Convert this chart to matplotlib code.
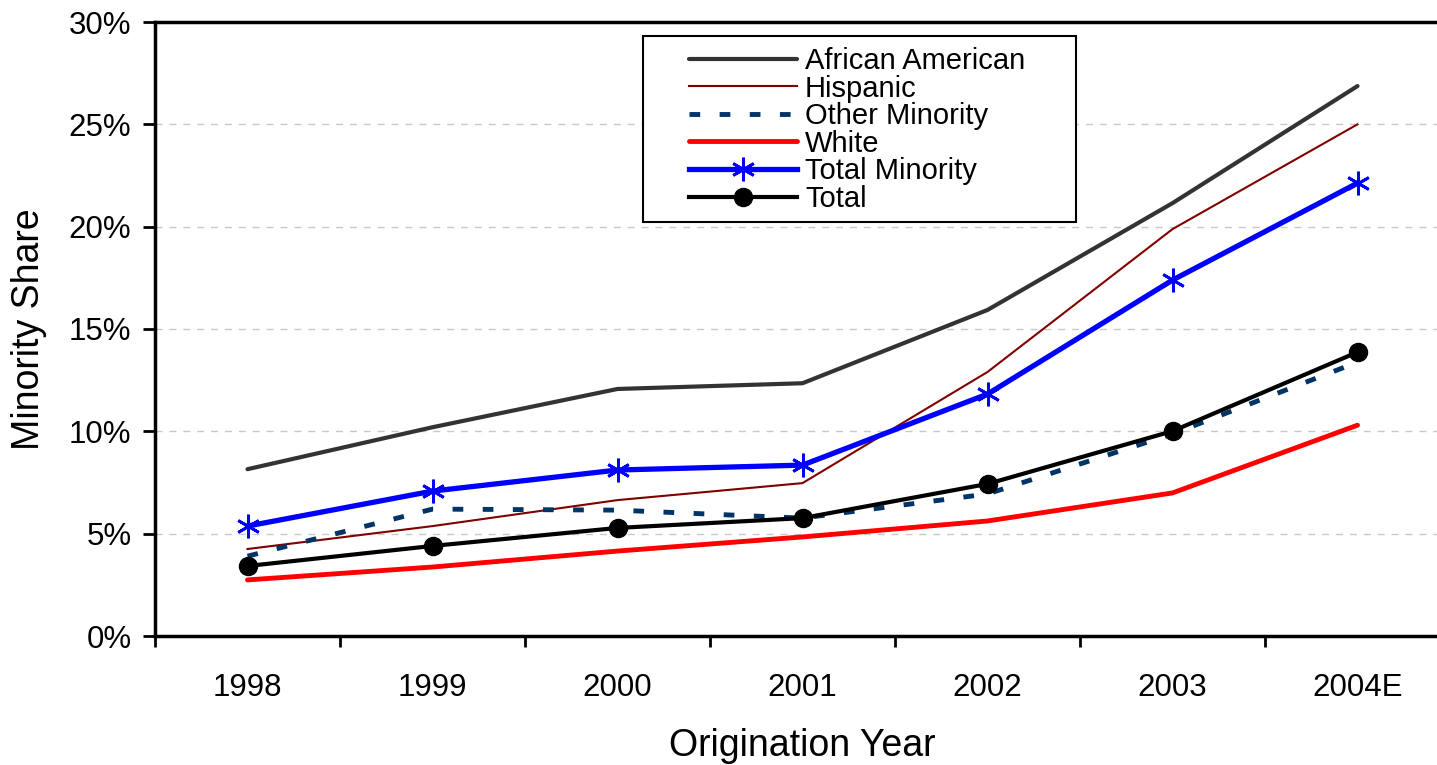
import matplotlib
matplotlib.use("Agg")
import matplotlib.pyplot as plt
from matplotlib.ticker import FuncFormatter, FixedLocator
from matplotlib.patches import Rectangle

plt.rcParams['font.family'] = ['Liberation Sans', 'DejaVu Sans']

years = ["1998", "1999", "2000", "2001", "2002", "2003", "2004E"]
african_american = [8.15, 10.2, 12.07, 12.35, 15.93, 21.15, 26.87]
hispanic = [4.25, 5.37, 6.64, 7.47, 12.9, 19.88, 25.0]
other_minority = [3.9, 6.2, 6.15, 5.76, 6.94, 9.87, 13.38]
white = [2.74, 3.37, 4.15, 4.84, 5.62, 6.99, 10.3]
total_minority = [5.37, 7.08, 8.11, 8.35, 11.82, 17.39, 22.13]
total = [3.42, 4.4, 5.28, 5.76, 7.43, 10.01, 13.87]

W, H = 1437, 765
fig = plt.figure(figsize=(W / 100, H / 100), dpi=100)
left, right, bottom, top = 155, 1450, 636, 22
ax = fig.add_axes([left / W, 1 - bottom / H, (right - left) / W, (bottom - top) / H])

x = list(range(len(years)))
ax.plot(x, african_american, color='#333333', lw=3.0, label='African American', solid_capstyle='round')
ax.plot(x, hispanic, color='#800000', lw=1.5, label='Hispanic')
ax.plot(x, other_minority, color='#003366', lw=3.5, dashes=(2.2, 4.0), dash_capstyle='butt',
        label='Other Minority')
ax.plot(x, white, color='#FF0000', lw=3.5, label='White', solid_capstyle='round')
ax.plot(x, total_minority, color='#0000FF', lw=3.8, marker=(6, 2, 0), markersize=17,
        markeredgewidth=2.0, markeredgecolor='#0000FF', label='Total Minority')
ax.plot(x, total, color='#000000', lw=3.0, marker='o', markersize=13, label='Total')

ax.set_xlim(-0.5, len(years) - 0.5)
ax.set_ylim(0, 30)
ax.set_yticks([0, 5, 10, 15, 20, 25, 30])
ax.yaxis.set_major_formatter(FuncFormatter(lambda v, p: f"{int(round(v))}%"))
ax.set_xticks(x)
ax.set_xticklabels(years)
ax.tick_params(axis='x', which='major', length=0, pad=27, labelsize=22.5)
ax.xaxis.set_minor_locator(FixedLocator([i + 0.5 for i in range(len(years) - 1)] + [-0.5]))
ax.tick_params(axis='x', which='minor', length=8, width=2, direction='out')
ax.tick_params(axis='y', length=9, width=2, direction='out', labelsize=22.5, pad=8)

ax.grid(axis='y', color='#C8C8C8', linestyle=(0, (5, 5)), lw=1.0)
ax.spines['right'].set_visible(False)
for s in ['left', 'bottom', 'top']:
    ax.spines[s].set_linewidth(2.5)

ax.set_ylabel('Minority Share', fontsize=27, labelpad=16)
ax.set_xlabel('Origination Year', fontsize=27, labelpad=18)

# legend box frame
rect = Rectangle((643 / W, 1 - 222 / H), (1076 - 643) / W, (222 - 36) / H,
                 transform=fig.transFigure, fill=True, facecolor='white',
                 edgecolor='black', lw=1.5, zorder=5, clip_on=False)
ax.add_artist(rect)
leg = ax.legend(loc='upper left', bbox_to_anchor=(689 / W, 1 - 47 / H), bbox_transform=fig.transFigure,
                fontsize=21, frameon=False, handlelength=3.7,
                handletextpad=0.28, labelspacing=-0.015, borderpad=0, borderaxespad=0)
leg.set_zorder(6)

fig.savefig('out.png', dpi=100)
